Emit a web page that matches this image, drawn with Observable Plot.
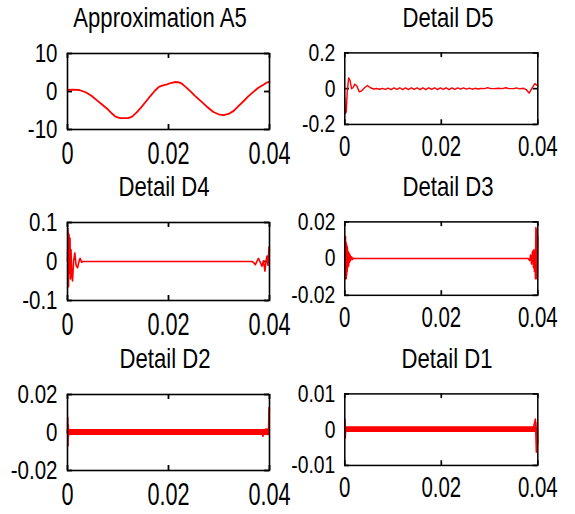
<!DOCTYPE html>
<html><head><meta charset="utf-8">
<script src="https://cdn.jsdelivr.net/npm/d3@7"></script>
<script src="https://cdn.jsdelivr.net/npm/@observablehq/plot@0.6"></script>
<style>
body{margin:0;background:#fff;}
#fig{position:relative;width:575px;height:514px;overflow:hidden;background:#fff;font-family:"Liberation Sans",Arial,sans-serif;}
.panel{position:absolute;}
.panel svg{overflow:visible;}
.title{position:absolute;font-size:28px;line-height:1;white-space:nowrap;color:#000;}
</style></head><body><div id="fig"></div>
<script>
// ---- data ----
const xTicks = [0, 0.02, 0.04];
const titles = ["Approximation A5", "Detail D5", "Detail D4", "Detail D3", "Detail D2", "Detail D1"];

const yTicksA5 = [-10, 0, 10];
const yTicksD5 = [-0.2, 0, 0.2];
const yTicksD4 = [-0.1, 0, 0.1];
const yTicksD3 = [-0.02, 0, 0.02];
const yTicksD2 = [-0.02, 0, 0.02];
const yTicksD1 = [-0.01, 0, 0.01];

const tA5 = [0, 0.001, 0.0023, 0.0036, 0.0048, 0.0059, 0.0069, 0.0079, 0.0088, 0.0095, 0.0104, 0.0112, 0.012, 0.0128, 0.0137, 0.0145, 0.0155, 0.0164, 0.0173, 0.0181, 0.0189, 0.0197, 0.0206, 0.0214, 0.0221, 0.0227, 0.0235, 0.0243, 0.0253, 0.0263, 0.0276, 0.0289, 0.0299, 0.0309, 0.0319, 0.0329, 0.0339, 0.0349, 0.0358, 0.0368, 0.0378, 0.0388, 0.0394, 0.04];
const vA5 = [0.4, 0.5, 0.4, -0.2, -1.2, -2.4, -3.5, -4.6, -5.8, -6.6, -7.0, -7.0, -7.0, -6.6, -5.5, -4.3, -2.7, -1.2, 0.2, 1.2, 1.6, 1.9, 2.3, 2.5, 2.4, 2.0, 1.1, 0.1, -1.2, -2.4, -4.0, -5.4, -6.0, -6.2, -5.9, -5.1, -3.8, -2.5, -1.3, -0.1, 1.0, 1.8, 2.3, 2.6];

const tD5 = [0, 0.0001, 0.0003, 0.0005, 0.0008, 0.0011, 0.0014, 0.0017, 0.0021, 0.0025, 0.003, 0.0035, 0.0041, 0.0047, 0.0053, 0.006, 0.0066, 0.0072, 0.0078, 0.0084, 0.009, 0.0096, 0.0102, 0.0108, 0.0114, 0.012, 0.0126, 0.0132, 0.0138, 0.0144, 0.015, 0.0156, 0.0162, 0.0168, 0.0174, 0.018, 0.0186, 0.0192, 0.0198, 0.0204, 0.021, 0.0216, 0.0222, 0.0228, 0.0234, 0.024, 0.0246, 0.0252, 0.0258, 0.0264, 0.027, 0.0276, 0.0282, 0.029, 0.0296, 0.0302, 0.031, 0.0318, 0.0326, 0.0334, 0.034, 0.035, 0.0356, 0.0362, 0.037, 0.0376, 0.0382, 0.0388, 0.0394, 0.04];
const vD5 = [-0.05, -0.14, -0.13, -0.02, 0.06, 0.045, 0.0, 0.005, 0.025, 0.015, -0.018, -0.012, 0.005, 0.018, 0.005, -0.002, 0.001, -0.003, 0.002, -0.004, 0.003, -0.005, 0.004, -0.004, 0.005, -0.005, 0.004, -0.005, 0.005, -0.004, 0.005, -0.005, 0.004, -0.005, 0.005, -0.004, 0.005, -0.005, 0.004, -0.004, 0.005, -0.005, 0.004, -0.004, 0.004, -0.003, 0.004, -0.003, 0.003, -0.003, 0.002, -0.002, 0.001, 0.0, 0.006, 0.0, 0.0, 0.002, 0.0, 0.005, 0.0, 0.0, 0.004, -0.001, 0.002, -0.005, -0.025, 0.003, 0.028, 0.015];

const tD4 = [0, 0.0001, 0.0002, 0.0003, 0.0004, 0.0005, 0.0006, 0.0007, 0.0008, 0.001, 0.0012, 0.00145, 0.0017, 0.002, 0.0023, 0.0025, 0.0028, 0.003, 0.0365, 0.0368, 0.0372, 0.0375, 0.0378, 0.0381, 0.0385, 0.0388, 0.0391, 0.0393, 0.0395, 0.0397, 0.0399, 0.04];
const vD4 = [0.0, 0.085, -0.065, 0.07, -0.03, 0.06, -0.045, 0.03, -0.02, -0.05, 0.0, 0.022, -0.01, -0.016, 0.002, 0.008, -0.002, 0.0, 0.0, -0.002, -0.008, 0.0, 0.008, 0.0, -0.012, 0.002, -0.025, 0.0, 0.014, -0.01, 0.037, 0.03];

const tD3 = [0, 0.00005, 0.0001, 0.00015, 0.0002, 0.00025, 0.0003, 0.00035, 0.0004, 0.00045, 0.0005, 0.00055, 0.0006, 0.0007, 0.0008, 0.0009, 0.001, 0.0011, 0.0012, 0.0014, 0.0016, 0.0018, 0.002, 0.038, 0.0383, 0.0385, 0.0387, 0.0389, 0.0391, 0.0392, 0.0393, 0.0394, 0.0395, 0.0396, 0.0397, 0.0398, 0.0399, 0.04];
const vD3 = [0.0, 0.011, -0.011, 0.012, -0.010, 0.009, -0.011, 0.008, -0.009, 0.007, -0.007, 0.006, -0.005, 0.004, -0.004, 0.003, -0.002, 0.002, -0.001, 0.001, -0.0005, 0.0003, 0.0, 0.0, -0.001, 0.002, -0.003, 0.004, -0.005, 0.005, -0.007, 0.004, -0.011, 0.017, -0.011, 0.016, -0.01, 0.012];

const tD2 = [0, 0.00005, 0.0001, 0.00015, 0.0002, 0.0003, 0.0005, 0.038, 0.0383, 0.0385, 0.0387, 0.0389, 0.0391, 0.0393, 0.0395, 0.0397, 0.0398, 0.0399, 0.04];
const vD2 = [0, 0.008, -0.007, 0.004, -0.002, 0.001, 0, 0, -0.001, 0.001, -0.002, 0.0005, -0.001, 0.002, -0.001, 0.002, -0.001, 0.013, 0.012];
// envelope of the fast, tiny oscillation that fills the D2 trace
const tD2band = [0.0001, 0.0399];
const loD2band = [-0.0011, -0.0011];
const hiD2band = [0.0011, 0.0011];

const tD1 = [0, 0.00005, 0.0001, 0.0002, 0.0004, 0.039, 0.0395, 0.0397, 0.0399, 0.04];
const vD1 = [0, 0.0028, -0.0024, 0.0005, 0, 0, 0.003, -0.0063, 0.002, -0.004];
// envelope of the fast, tiny oscillation that fills the D1 trace
const tD1band = [0.0001, 0.0399];
const loD1band = [-0.0006, -0.0006];
const hiD1band = [0.0006, 0.0006];

// ---- layout ----
const panels = [
  {title: titles[0], t: tA5, v: vA5, yTicks: yTicksA5, left: 67, top: 53, w: 202, h: 76, sw: 1.8, tdx: -8},
  {title: titles[1], t: tD5, v: vD5, yTicks: yTicksD5, left: 349, top: 53, w: 205, h: 76, sw: 1.5, tdx: -4},
  {title: titles[2], t: tD4, v: vD4, yTicks: yTicksD4, left: 67, top: 222, w: 202, h: 78, sw: 1.6, tdx: -4},
  {title: titles[3], t: tD3, v: vD3, yTicks: yTicksD3, left: 349, top: 222, w: 205, h: 78, sw: 1.6, tdx: -4},
  {title: titles[4], t: tD2, v: vD2, yTicks: yTicksD2, left: 67, top: 394, w: 202, h: 76, sw: 1.6, tdx: -3,
   band: {t: tD2band, lo: loD2band, hi: hiD2band}},
  {title: titles[5], t: tD1, v: vD1, yTicks: yTicksD1, left: 349, top: 394, w: 205, h: 76, sw: 1.6, tdx: -5,
   band: {t: tD1band, lo: loD1band, hi: hiD1band}},
];

const fmt = d => String(d);
const fig = document.getElementById("fig");
const ML = 80, MR = 40, MT = 10, MB = 50;
const TICK = 5;

panels.forEach(p => {
  const data = p.t.map((t, i) => ({t, v: p.v[i]}));
  const marks = [
    Plot.axisX({ticks: xTicks, tickSize: 0, tickPadding: 12, tickFormat: fmt, fontSize: 31, label: null}),
    Plot.axisY({ticks: p.yTicks, tickSize: 0, tickPadding: 10, tickFormat: fmt, fontSize: 26, label: null}),
    // inward tick marks on all four sides, MATLAB style
    Plot.ruleX(xTicks, {stroke: "black", strokeWidth: 1.8, insetBottom: p.h - TICK}),
    Plot.ruleX(xTicks, {stroke: "black", strokeWidth: 1.8, insetTop: p.h - TICK}),
    Plot.ruleY(p.yTicks, {stroke: "black", strokeWidth: 1.8, insetRight: p.w - TICK}),
    Plot.ruleY(p.yTicks, {stroke: "black", strokeWidth: 1.8, insetLeft: p.w - TICK})
  ];
  if (p.band) {
    const bd = p.band.t.map((t, i) => ({t, lo: p.band.lo[i], hi: p.band.hi[i]}));
    marks.push(Plot.areaY(bd, {x: "t", y1: "lo", y2: "hi", fill: "#ff0000", stroke: "#ff0000", strokeWidth: 1.6}));
  }
  marks.push(Plot.line(data, {x: "t", y: "v", stroke: "#ff0000", strokeWidth: p.sw}));
  marks.push(Plot.frame({stroke: "black", strokeWidth: 1.6}));

  const chart = Plot.plot({
    width: ML + p.w + MR, height: MT + p.h + MB,
    marginLeft: ML, marginRight: MR, marginTop: MT, marginBottom: MB,
    x: {domain: [0, 0.04], label: null},
    y: {domain: [p.yTicks[0], p.yTicks[p.yTicks.length - 1]], label: null},
    style: {background: "transparent", overflow: "visible", fontFamily: "'Liberation Sans', Arial, sans-serif", color: "black"},
    marks
  });
  // condense the glyphs horizontally like the original bitmap font
  chart.querySelectorAll("g[aria-label='x-axis tick label'] text").forEach(el => {
    const tr = el.getAttribute("transform") || "";
    el.setAttribute("transform", tr + " scale(0.7,1)");
  });
  chart.querySelectorAll("g[aria-label='y-axis tick label'] text").forEach(el => {
    const tr = el.getAttribute("transform") || "";
    el.setAttribute("transform", tr + " scale(0.79,1)");
  });
  const wrap = document.createElement("div");
  wrap.className = "panel";
  wrap.style.left = (p.left - ML) + "px";
  wrap.style.top = (p.top - MT) + "px";
  wrap.appendChild(chart);
  fig.appendChild(wrap);

  const tt = document.createElement("div");
  tt.className = "title";
  tt.textContent = p.title;
  tt.style.left = (p.left + p.w / 2 + p.tdx) + "px";
  tt.style.top = (p.top - 49) + "px";
  tt.style.transform = "translateX(-50%) scaleX(0.79)";
  fig.appendChild(tt);
});
</script></body></html>
